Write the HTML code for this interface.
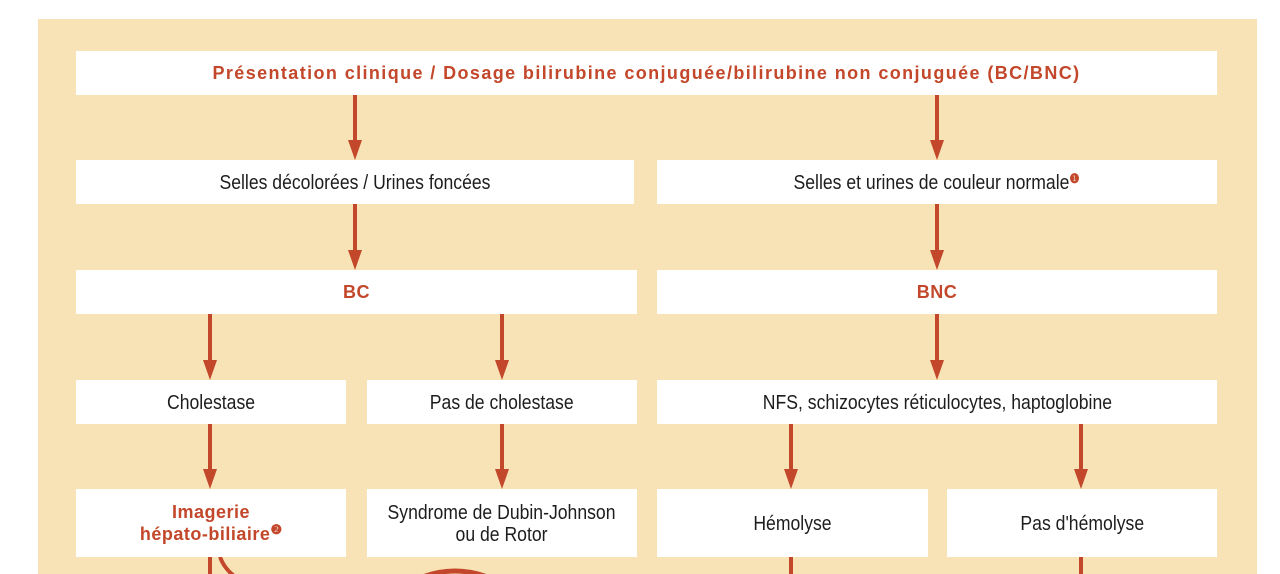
<!DOCTYPE html>
<html><head><meta charset="utf-8"><style>
html,body{margin:0;padding:0;background:#fff;width:1280px;height:574px;overflow:hidden;position:relative}
#p{position:absolute;left:38px;top:19px;width:1219px;height:555px;background:#f8e3b7}
.b{position:absolute;background:#fff;display:flex;align-items:center;justify-content:center;text-align:center;
font-family:"Liberation Sans",sans-serif;font-size:20px;color:#1d1d1d;line-height:22px}
.b>span{display:inline-block;transform:scaleX(0.88);white-space:nowrap;position:relative;top:1px}
.r{color:#c3472a;font-weight:bold;font-size:18px;line-height:22px}
.r>span{transform:none;letter-spacing:1.4px;top:0}
.r.s>span{letter-spacing:0.5px}
sup{font-size:13px;line-height:0;color:#c3472a;vertical-align:6px;font-weight:bold;letter-spacing:0}
svg{position:absolute;left:0;top:0}
</style></head><body>
<div id="p"></div>
<svg width="1280" height="574">
<g stroke="#c3472a" stroke-width="4" fill="none">
<line x1="355" y1="95" x2="355" y2="142"/><line x1="937" y1="95" x2="937" y2="142"/>
<line x1="355" y1="204" x2="355" y2="252"/><line x1="937" y1="204" x2="937" y2="252"/>
<line x1="210" y1="314" x2="210" y2="362"/><line x1="502" y1="314" x2="502" y2="362"/><line x1="937" y1="314" x2="937" y2="362"/>
<line x1="210" y1="424" x2="210" y2="471"/><line x1="502" y1="424" x2="502" y2="471"/><line x1="791" y1="424" x2="791" y2="471"/><line x1="1081" y1="424" x2="1081" y2="471"/>
<line x1="210" y1="557" x2="210" y2="574"/><line x1="791" y1="557" x2="791" y2="574"/><line x1="1081" y1="557" x2="1081" y2="574"/>
<path d="M220 557 Q224 568 234 576"/>
<path d="M420 578 Q455 564 490 578" stroke-width="5"/>
</g>
<g fill="#c3472a">
<polygon points="348,140 362,140 355,160"/><polygon points="930,140 944,140 937,160"/>
<polygon points="348,250 362,250 355,270"/><polygon points="930,250 944,250 937,270"/>
<polygon points="203,360 217,360 210,380"/><polygon points="495,360 509,360 502,380"/><polygon points="930,360 944,360 937,380"/>
<polygon points="203,469 217,469 210,489"/><polygon points="495,469 509,469 502,489"/><polygon points="784,469 798,469 791,489"/><polygon points="1074,469 1088,469 1081,489"/>
</g>
</svg>
<div class="b r" style="left:76px;top:51px;width:1141px;height:44px"><span>Présentation clinique / Dosage bilirubine conjuguée/bilirubine non conjuguée (BC/BNC)</span></div>
<div class="b" style="left:76px;top:160px;width:558px;height:44px"><span>Selles décolorées / Urines foncées</span></div>
<div class="b" style="left:657px;top:160px;width:560px;height:44px"><span>Selles et urines de couleur normale<sup>❶</sup></span></div>
<div class="b r s" style="left:76px;top:270px;width:561px;height:44px"><span>BC</span></div>
<div class="b r s" style="left:657px;top:270px;width:560px;height:44px"><span>BNC</span></div>
<div class="b" style="left:76px;top:380px;width:270px;height:44px"><span>Cholestase</span></div>
<div class="b" style="left:367px;top:380px;width:270px;height:44px"><span>Pas de cholestase</span></div>
<div class="b" style="left:657px;top:380px;width:560px;height:44px"><span>NFS, schizocytes réticulocytes, haptoglobine</span></div>
<div class="b r s" style="left:76px;top:489px;width:270px;height:68px"><span>Imagerie<br>hépato-biliaire<sup>❷</sup></span></div>
<div class="b" style="left:367px;top:489px;width:270px;height:68px"><span>Syndrome de Dubin-Johnson<br>ou de Rotor</span></div>
<div class="b" style="left:657px;top:489px;width:271px;height:68px"><span>Hémolyse</span></div>
<div class="b" style="left:947px;top:489px;width:270px;height:68px"><span>Pas d'hémolyse</span></div>
</body></html>
